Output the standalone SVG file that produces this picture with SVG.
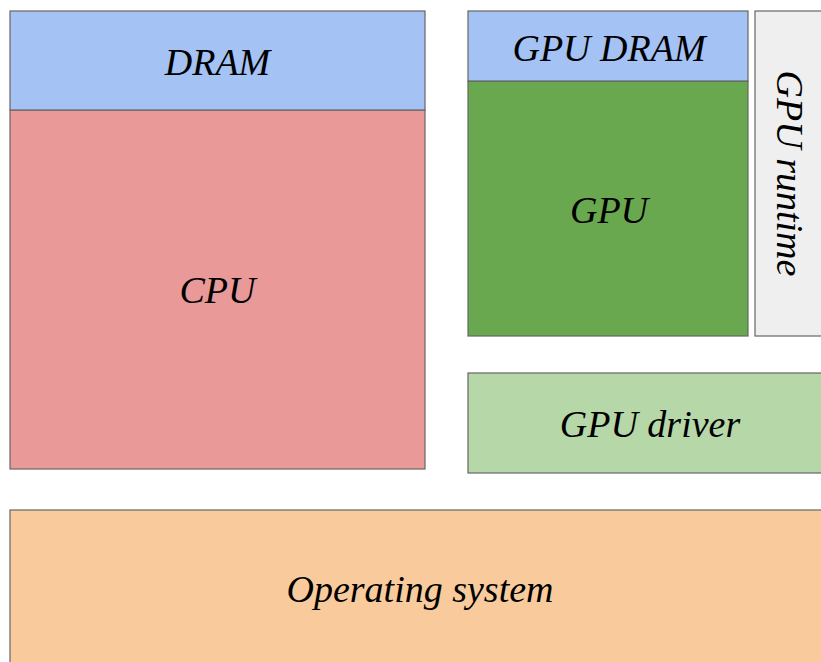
<svg xmlns="http://www.w3.org/2000/svg" width="821" height="662" viewBox="0 0 821 662">
  <style>
    .box { stroke: #666666; stroke-width: 1.2; }
    .lbl { font-family: "Liberation Serif", "Times New Roman", serif; font-style: italic; font-size: 38px; fill: #000000; text-anchor: middle; }
  </style>
  <rect width="821" height="662" fill="#ffffff"/>

  <g id="cpu">
    <rect class="box" x="10" y="110" width="415" height="359" fill="#ea9999"/>
    <text class="lbl" x="217.5" y="303">CPU</text>
  </g>
  <g id="dram">
    <rect class="box" x="10" y="11" width="415" height="99" fill="#a4c2f4"/>
    <text class="lbl" x="217.5" y="75">DRAM</text>
  </g>

  <g id="gpu">
    <rect class="box" x="468" y="81" width="280" height="255" fill="#6aa84f"/>
    <text class="lbl" x="609" y="223">GPU</text>
  </g>
  <g id="gpu-dram">
    <rect class="box" x="468" y="11" width="280" height="70" fill="#a4c2f4"/>
    <text class="lbl" x="609" y="61">GPU DRAM</text>
  </g>

  <g id="gpu-runtime">
    <rect class="box" x="755" y="11" width="80" height="325" fill="#efefef"/>
    <text class="lbl" transform="translate(777 173.5) rotate(90)" x="0" y="0">GPU runtime</text>
  </g>

  <g id="gpu-driver">
    <rect class="box" x="468" y="373" width="364" height="100" fill="#b6d7a8"/>
    <text class="lbl" x="650" y="437">GPU driver</text>
  </g>

  <g id="operating-system">
    <rect class="box" x="10" y="510" width="820" height="170" fill="#f9cb9c"/>
    <text class="lbl" x="420" y="602">Operating system</text>
  </g>

  <g id="connectors"/>
</svg>
